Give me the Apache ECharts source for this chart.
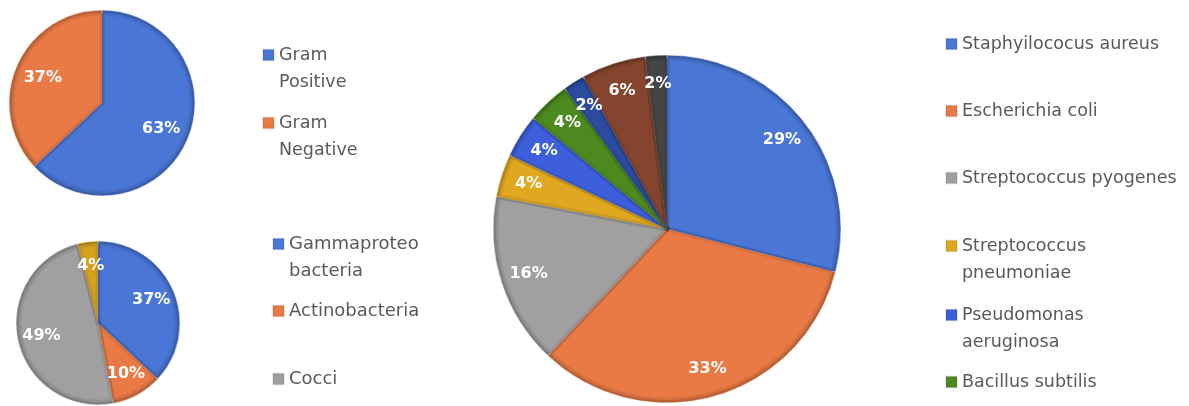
<!DOCTYPE html>
<html><head><meta charset="utf-8">
<script src="https://cdn.jsdelivr.net/npm/echarts@6/dist/echarts.min.js"></script>
<style>html,body{margin:0;padding:0;background:#fff}#c{width:1189px;height:406px}</style>
</head><body><div id="c"></div>
<script>
const gramNames = ['Gram Positive', 'Gram Negative'];
const gramValues = [63, 37];
const classNames = ['Gammaproteobacteria', 'Actinobacteria', 'Cocci', 'Others'];
const classValues = [37, 10, 49, 4];
const speciesNames = ['Staphyilococus aureus', 'Escherichia coli', 'Streptococcus pyogenes',
  'Streptococcus pneumoniae', 'Pseudomonas aeruginosa', 'Bacillus subtilis',
  'Species 7', 'Species 8', 'Species 9'];
const speciesValues = [29, 33, 16, 4, 4, 4, 2, 6, 2];
const legendBreaks = {
  'Gram Positive': 'Gram\nPositive',
  'Gram Negative': 'Gram\nNegative',
  'Gammaproteobacteria': 'Gammaproteo\nbacteria',
  'Streptococcus pneumoniae': 'Streptococcus\npneumoniae',
  'Pseudomonas aeruginosa': 'Pseudomonas\naeruginosa'
};

const gramColors = ['#4A77D6', '#E97A45'];
const classColors = ['#4A77D6', '#E97A45', '#A0A0A0', '#D6A21E'];
const speciesColors = ['#4A77D6', '#E97A45', '#A0A0A0', '#E0A820', '#3D5FDB', '#4C8A1F', '#2B4C9E', '#84442E', '#454545'];

const FONT = '"DejaVu Sans", sans-serif';
const LH = 27;

function darken(hex, k) {
  const n = parseInt(hex.slice(1), 16);
  const r = Math.round(((n >> 16) & 255) * k), g = Math.round(((n >> 8) & 255) * k), b = Math.round((n & 255) * k);
  return 'rgb(' + r + ',' + g + ',' + b + ')';
}

function toData(names, values, colors) {
  return names.map((n, i) => ({ name: n, value: values[i], itemStyle: colors ? { color: colors[i] } : undefined }));
}

function pieSeries(names, values, colors, center, r, r0label, inset) {
  return [
    { // main slices (first: provides legend colours)
      type: 'pie', center: center, radius: [0, r - inset], startAngle: 90, clockwise: true, z: 3,
      data: toData(names, values, colors),
      itemStyle: { borderColor: 'rgba(0,0,0,0.08)', borderWidth: 5, borderJoin: 'round' },
      label: { show: false }, labelLine: { show: false }, silent: true
    },
    { // darker rim underneath
      type: 'pie', center: center, radius: [0, r], startAngle: 90, clockwise: true, z: 2,
      data: toData(names, values, colors.map(c => darken(c, 0.87))),
      itemStyle: { borderColor: 'rgba(255,255,255,0.55)', borderWidth: 1 },
      label: { show: false }, labelLine: { show: false }, silent: true
    },
    { // labels
      type: 'pie', center: center, radius: [r0label, r], startAngle: 90, clockwise: true, z: 4,
      avoidLabelOverlap: false, labelLayout: { hideOverlap: false },
      data: toData(names, values, null),
      itemStyle: { color: 'rgba(0,0,0,0)', borderWidth: 0 },
      label: { show: true, position: 'inside', formatter: '{c}%', color: '#fff',
        fontFamily: FONT, fontWeight: 'bold', fontSize: 16 },
      labelLine: { show: false }, silent: true
    }
  ];
}

const legendLayout = [
  { names: gramNames.slice(0, 2), left: 262, centers: [55, 123], size: 17.5 },
  { names: classNames.slice(0, 3), left: 272, centers: [244, 311, 379], size: 18 },
  { names: speciesNames.slice(0, 6), left: 945, centers: [44, 111, 178, 246, 315, 382], size: 17.5 }
];

const legends = [];
legendLayout.forEach(g => {
  g.names.forEach((n, i) => {
    const multi = !!legendBreaks[n];
    legends.push({
      data: [n], left: g.left, top: g.centers[i] - (multi ? 1.5 * LH : 0.5 * LH),
      padding: 0, itemWidth: 11, itemHeight: 11, icon: 'rect', selectedMode: false,
      formatter: name => legendBreaks[name] ? '\n' + legendBreaks[name] : name,
      textStyle: { fontFamily: FONT, fontSize: g.size, color: '#595959', lineHeight: LH }
    });
  });
});

const chart = echarts.init(document.getElementById('c'), null, { renderer: 'canvas' });
chart.setOption({
  animation: false,
  backgroundColor: '#fff',
  legend: legends,
  series: [
    ...pieSeries(gramNames, gramValues, gramColors, [102, 103], 93, 30, 3),
    ...pieSeries(classNames, classValues, classColors, [98, 323], 82, 28, 3),
    ...pieSeries(speciesNames, speciesValues, speciesColors, [667, 229], 174, 111, 3)
  ]
});
</script>
</body></html>
